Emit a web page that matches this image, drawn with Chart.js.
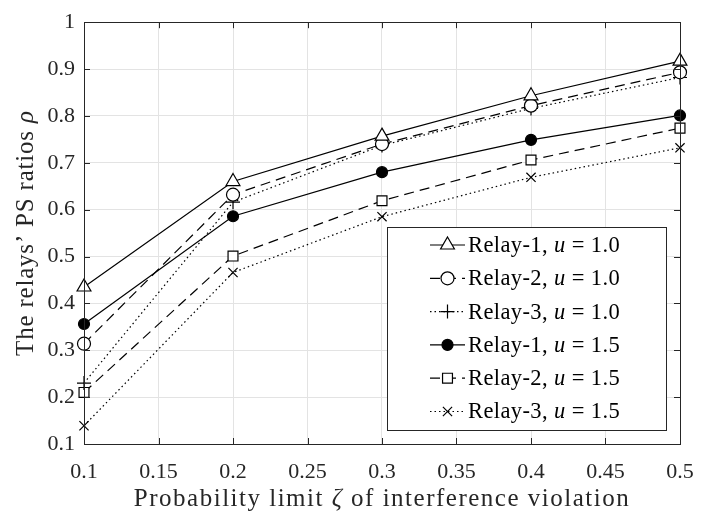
<!DOCTYPE html>
<html><head><meta charset="utf-8">
<script src="https://cdn.jsdelivr.net/npm/chart.js@4/dist/chart.umd.min.js"></script>
<style>html,body{margin:0;padding:0;background:#fff;}canvas{display:block;}</style>
</head><body>
<canvas id="c" width="709" height="511"></canvas>
<script>
// ---- data ----
const zeta = [0.1, 0.2, 0.3, 0.4, 0.5];
const relay1_u10 = [0.435, 0.660, 0.757, 0.843, 0.917];
const relay2_u10 = [0.314, 0.632, 0.740, 0.822, 0.893];
const relay3_u10 = [0.230, 0.616, 0.737, 0.816, 0.882];
const relay1_u15 = [0.356, 0.586, 0.680, 0.749, 0.801];
const relay2_u15 = [0.210, 0.501, 0.619, 0.706, 0.774];
const relay3_u15 = [0.139, 0.466, 0.585, 0.669, 0.732];
const relayNames = ['Relay-1', 'Relay-2', 'Relay-3', 'Relay-1', 'Relay-2', 'Relay-3'];
const uValues = ['1.0', '1.0', '1.0', '1.5', '1.5', '1.5'];
const xTicks = [0.1, 0.15, 0.2, 0.25, 0.3, 0.35, 0.4, 0.45, 0.5];
const yTicks = [0.1, 0.2, 0.3, 0.4, 0.5, 0.6, 0.7, 0.8, 0.9, 1];
const xTitle = ['Probability limit ', 'ζ', ' of interference violation'];
const yTitle = ['The relays’ PS ratios ', 'ρ'];

// ---- styles ----
const FONT = "'Liberation Serif', 'DejaVu Serif', serif";
const TICK_FS = 22;
const TITLE_FS = 25;
const LEG_FS = 22.5;
const AX = '#262626';
const seriesValues = [relay1_u10, relay2_u10, relay3_u10, relay1_u15, relay2_u15, relay3_u15];
const styles = [
  {dash: [], point: 'triangle', r: 8, fill: '#fff'},
  {dash: [10, 6], point: 'circle', r: 6.5, fill: '#fff'},
  {dash: [1.5, 3], point: 'cross', r: 7, fill: '#fff'},
  {dash: [], point: 'circle', r: 5.5, fill: '#000'},
  {dash: [10, 6], point: 'rect', r: 7, fill: '#fff'},
  {dash: [1.5, 3], point: 'crossRot', r: 6.5, fill: '#fff'}
];

const datasets = seriesValues.map((vals, i) => ({
  label: relayNames[i] + ', u = ' + uValues[i],
  data: zeta.map((x, j) => ({x: x, y: vals[j]})),
  borderColor: '#000',
  borderWidth: 1.2,
  borderDash: styles[i].dash,
  tension: 0,
  fill: false,
  clip: false,
  pointStyle: styles[i].point,
  pointRadius: styles[i].r,
  pointBorderWidth: 1.2,
  pointBorderColor: '#000',
  pointBackgroundColor: styles[i].fill
}));

function drawMixed(ctx, parts, x, y, fs, spacing, align) {
  // parts: [text, italic?]
  const fonts = parts.map(p => (p[1] ? 'italic ' : '') + fs + 'px ' + FONT);
  ctx.letterSpacing = spacing + 'px';
  let total = 0;
  const widths = parts.map((p, k) => { ctx.font = fonts[k]; const w = ctx.measureText(p[0]).width; total += w; return w; });
  let cx = align === 'left' ? x : x - total / 2;
  ctx.textAlign = 'left';
  parts.forEach((p, k) => { ctx.font = fonts[k]; ctx.fillText(p[0], cx, y); cx += widths[k]; });
  ctx.letterSpacing = '0px';
}

const framePlugin = {
  id: 'frame',
  afterDatasetsDraw(chart) {
    const {ctx, chartArea: a, scales} = chart;
    ctx.save();
    ctx.strokeStyle = AX; ctx.lineWidth = 1; ctx.setLineDash([]);
    ctx.strokeRect(Math.round(a.left) + 0.5, Math.round(a.top) + 0.5, Math.round(a.right - a.left), Math.round(a.bottom - a.top));
    const TL = 6;
    ctx.beginPath();
    xTicks.forEach(v => {
      const px = Math.round(scales.x.getPixelForValue(v)) + 0.5;
      ctx.moveTo(px, a.bottom); ctx.lineTo(px, a.bottom - TL);
      ctx.moveTo(px, a.top); ctx.lineTo(px, a.top + TL);
    });
    yTicks.forEach(v => {
      const py = Math.round(scales.y.getPixelForValue(v)) + 0.5;
      ctx.moveTo(a.left, py); ctx.lineTo(a.left + TL, py);
      ctx.moveTo(a.right, py); ctx.lineTo(a.right - TL, py);
    });
    ctx.stroke();
    ctx.restore();
  },
  afterDraw(chart) {
    const {ctx, chartArea: a} = chart;
    ctx.save();
    ctx.fillStyle = AX;
    ctx.textBaseline = 'alphabetic';
    // x title
    drawMixed(ctx, [[xTitle[0], false], [xTitle[1], true], [xTitle[2], false]], (a.left + a.right) / 2, 506, TITLE_FS, 1.5);
    // y title
    ctx.translate(33, (a.top + a.bottom) / 2);
    ctx.rotate(-Math.PI / 2);
    drawMixed(ctx, [[yTitle[0], false], [yTitle[1], true]], 0, 0, TITLE_FS, 0.8);
    ctx.restore();

    // legend
    const L = 387, T = 227, R = 666, B = 430;
    ctx.save();
    ctx.fillStyle = '#fff';
    ctx.fillRect(L, T, R - L, B - T);
    ctx.strokeStyle = AX; ctx.lineWidth = 1;
    ctx.strokeRect(L + 0.5, T + 0.5, R - L, B - T);
    const rowH = 33.3;
    chart.data.datasets.forEach((ds, i) => {
      const y = 245 + i * rowH;
      ctx.strokeStyle = '#000'; ctx.lineWidth = 1.2;
      ctx.setLineDash(ds.borderDash);
      ctx.beginPath(); ctx.moveTo(430, y); ctx.lineTo(465, y); ctx.stroke();
      ctx.setLineDash([]);
      ctx.fillStyle = ds.pointBackgroundColor;
      ctx.strokeStyle = '#000';
      Chart.helpers.drawPoint(ctx, {pointStyle: ds.pointStyle, radius: ds.pointRadius, rotation: 0, borderWidth: 1.2}, 447.5, y);
      ctx.fillStyle = '#000';
      ctx.textBaseline = 'middle';
      drawMixed(ctx, [[relayNames[i] + ', ', false], ['u', true], [' = ' + uValues[i], false]], 468, y + 1, LEG_FS, 0.4, 'left');
    });
    ctx.restore();
  }
};

new Chart(document.getElementById('c'), {
  type: 'line',
  data: {datasets: datasets},
  options: {
    responsive: false,
    animation: false,
    devicePixelRatio: 1,
    layout: {padding: {top: 14, right: 29, left: 0, bottom: 0}},
    plugins: {legend: {display: false}, tooltip: {enabled: false}},
    scales: {
      x: {
        type: 'linear', min: 0.1, max: 0.5,
        afterBuildTicks: s => { s.ticks = xTicks.map(v => ({value: v})); },
        afterFit: s => { s.height = 67; },
        ticks: {callback: v => String(v), font: {family: FONT, size: TICK_FS}, color: AX, padding: 15, maxRotation: 0, autoSkip: false},
        grid: {color: '#e3e3e3', drawTicks: false, lineWidth: 1},
        border: {display: false}
      },
      y: {
        type: 'linear', min: 0.1, max: 1,
        afterBuildTicks: s => { s.ticks = yTicks.map(v => ({value: v})); },
        afterFit: s => { s.width = 84; },
        ticks: {callback: v => String(v), font: {family: FONT, size: TICK_FS}, color: AX, padding: 9, autoSkip: false},
        grid: {color: '#e3e3e3', drawTicks: false, lineWidth: 1},
        border: {display: false}
      }
    }
  },
  plugins: [framePlugin]
});
</script>
</body></html>
